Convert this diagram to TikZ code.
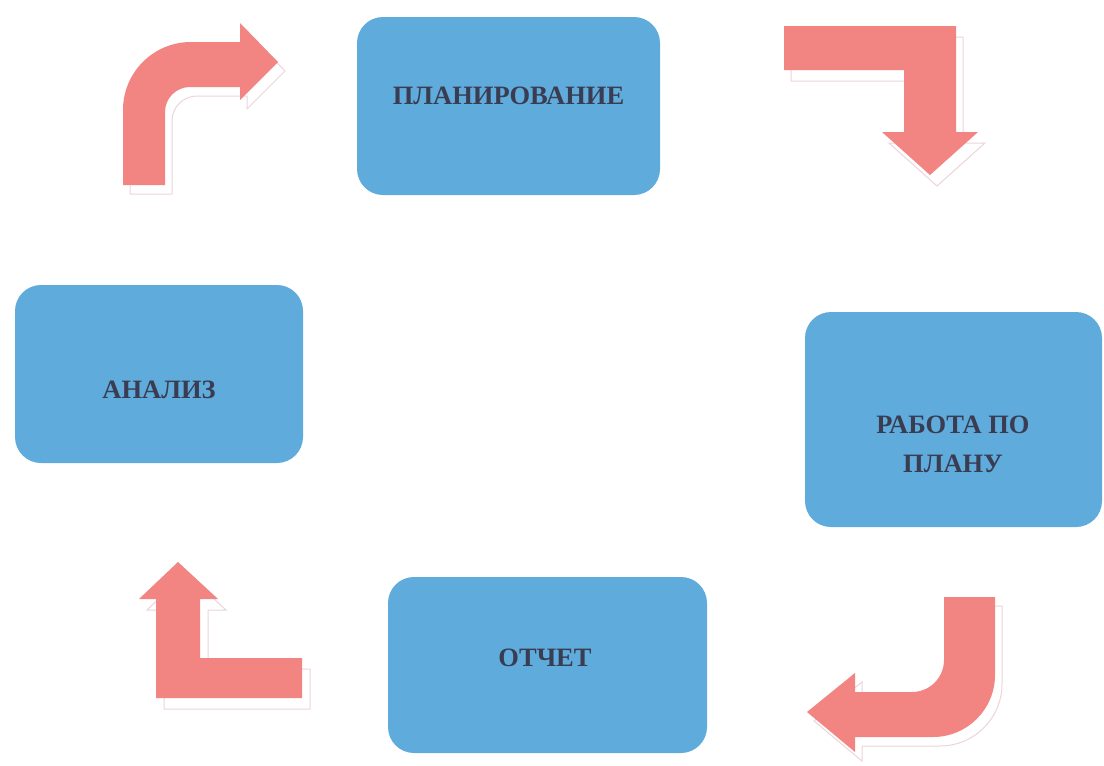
\documentclass[tikz,border=0pt]{standalone}
\usepackage{fontspec}
\setmainfont{Liberation Serif}
\usetikzlibrary{backgrounds}
\definecolor{boxblue}{RGB}{95,172,220}
\definecolor{arrowpink}{RGB}{242,132,130}
\definecolor{textnavy}{RGB}{58,60,82}
\definecolor{reflect}{RGB}{236,212,218}
\definecolor{glowgray}{RGB}{218,218,222}
\tikzset{
  box/.style={fill=boxblue, rounded corners=26pt, inner sep=0pt},
  boxtext/.style={text=textnavy, font=\bfseries\fontsize{26.5}{39}\selectfont, align=center, inner sep=0pt},
  blockarrow/.style={fill=arrowpink, draw=none},
  arrowshadow/.style={fill=white, draw=reflect, line width=1pt},
  glow/.style={fill=glowgray, rounded corners=30pt},
  rim/.style={fill=white, rounded corners=29pt},
}
\begin{document}
\begin{tikzpicture}[x=1pt,y=-1pt]
\useasboundingbox[fill=white] (0,0) rectangle (1104,766);

% boxes
\node[box, minimum width=303pt, minimum height=178pt] (plan) at (508.5,106) {};
\node[boxtext] (plantext) at (508.5,96) {ПЛАНИРОВАНИЕ};

\node[box, minimum width=288pt, minimum height=178pt] (anal) at (159,374) {};
\node[boxtext] (analtext) at (159,390) {АНАЛИЗ};

\node[box, minimum width=297pt, minimum height=215pt] (work) at (953.5,419.5) {};
\node[boxtext] (worktext) at (953,444) {РАБОТА ПО\\ПЛАНУ};

\node[box, minimum width=319pt, minimum height=176pt] (rep) at (547.5,665) {};
\node[boxtext] (reptext) at (545,658) {ОТЧЕТ};

\begin{scope}[on background layer]
  \foreach \b in {plan,anal,work,rep}{
    \fill[glow] ([shift={(-4,-4)}]\b.north west) rectangle ([shift={(8,9)}]\b.south east);
    \fill[rim] ([shift={(-5,-5)}]\b.north west) rectangle ([shift={(6,6)}]\b.south east);
  }
\end{scope}

% arrow 1: top-left, curving up then right
\begin{scope}[shift={(7,9)}]
\draw[arrowshadow] (123,185) -- (123,110) .. controls (123,72.4) and (153.4,42) .. (191,42)
  -- (240,42) -- (240,23) -- (278,62) -- (240,100) -- (240,87) -- (190,87)
  .. controls (176.2,87) and (165,98.2) .. (165,112) -- (165,185) -- cycle;
\end{scope}
\fill[blockarrow] (123,185) -- (123,110) .. controls (123,72.4) and (153.4,42) .. (191,42)
  -- (240,42) -- (240,23) -- (278,62) -- (240,100) -- (240,87) -- (190,87)
  .. controls (176.2,87) and (165,98.2) .. (165,112) -- (165,185) -- cycle;

% arrow 2: top-right, right then down
\begin{scope}[shift={(7,11)}]
\draw[arrowshadow] (784,26) -- (956,26) -- (956,132) -- (978,132) -- (930,175)
  -- (882,132) -- (904,132) -- (904,70) -- (784,70) -- cycle;
\end{scope}
\fill[blockarrow] (784,26) -- (956,26) -- (956,132) -- (978,132) -- (930,175)
  -- (882,132) -- (904,132) -- (904,70) -- (784,70) -- cycle;

% arrow 3: bottom-right, down then left
\begin{scope}[shift={(7,9)}]
\draw[arrowshadow] (944,597) -- (995,597) -- (995,675) .. controls (995,709.2) and (967.2,737) .. (933,737)
  -- (855,737) -- (855,752) -- (807,712) -- (855,673) -- (855,692) -- (912,692)
  .. controls (929.7,692) and (944,677.7) .. (944,660) -- cycle;
\end{scope}
\fill[blockarrow] (944,597) -- (995,597) -- (995,675) .. controls (995,709.2) and (967.2,737) .. (933,737)
  -- (855,737) -- (855,752) -- (807,712) -- (855,673) -- (855,692) -- (912,692)
  .. controls (929.7,692) and (944,677.7) .. (944,660) -- cycle;

% arrow 4: bottom-left, left then up
\begin{scope}[shift={(8,11)}]
\draw[arrowshadow] (178,562) -- (218,599) -- (200,599) -- (200,658) -- (302,658)
  -- (302,698) -- (156,698) -- (156,599) -- (139,599) -- cycle;
\end{scope}
\fill[blockarrow] (178,562) -- (218,599) -- (200,599) -- (200,658) -- (302,658)
  -- (302,698) -- (156,698) -- (156,599) -- (139,599) -- cycle;
\end{tikzpicture}
\end{document}
